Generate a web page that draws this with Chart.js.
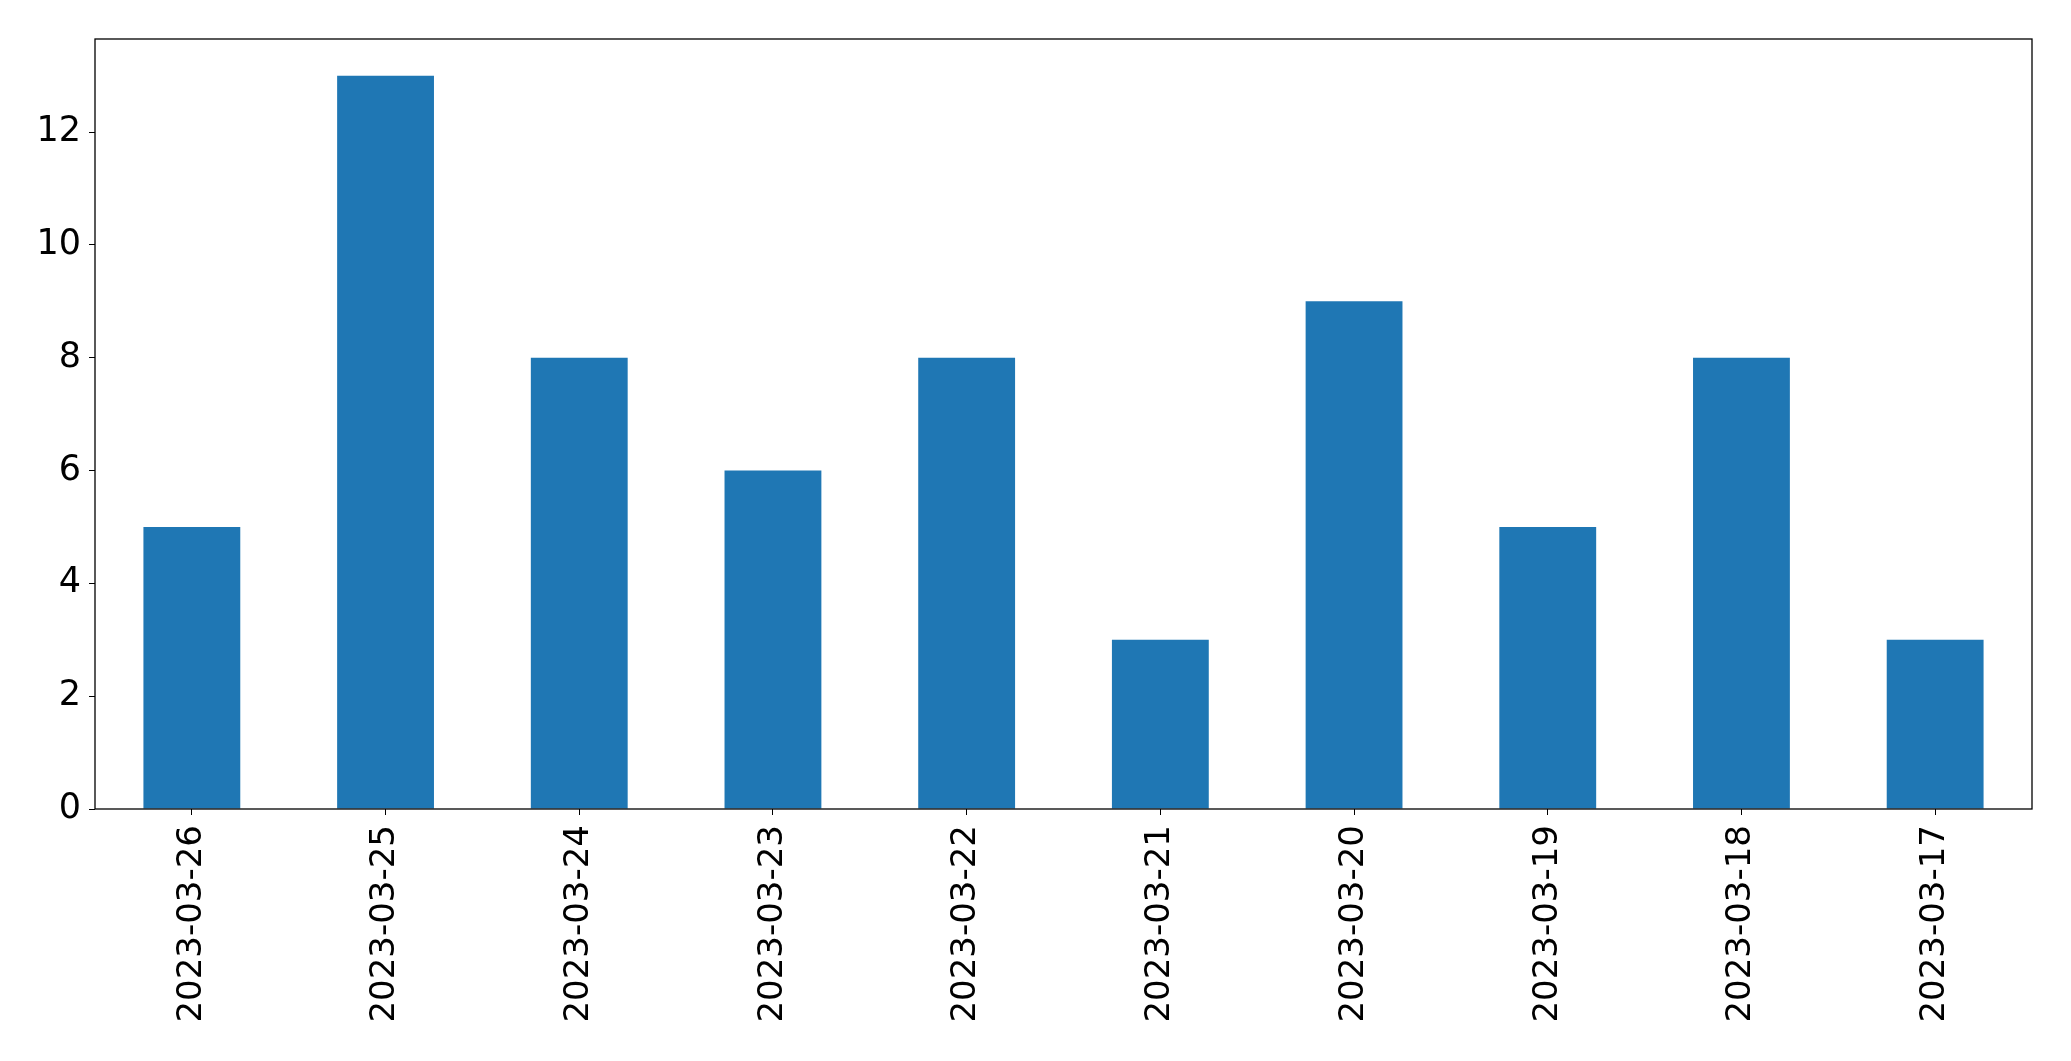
<!DOCTYPE html>
<html>
<head>
<meta charset="utf-8">
<script src="https://cdn.jsdelivr.net/npm/chart.js@4"></script>
<style>
  html, body { margin: 0; padding: 0; background: #fff; }
  #wrap { width: 2071px; height: 1061px; }
</style>
</head>
<body>
<div id="wrap"><canvas id="barChart"></canvas></div>
<script>
// 数据
const dates = ['2023-03-26', '2023-03-25', '2023-03-24', '2023-03-23', '2023-03-22',
               '2023-03-21', '2023-03-20', '2023-03-19', '2023-03-18', '2023-03-17'];
const counts = [5, 13, 8, 6, 8, 3, 9, 5, 8, 3];
const yTicks = [0, 2, 4, 6, 8, 10, 12];

// 四边框线
const frame = {
  id: 'frame',
  afterDraw(chart) {
    const { ctx, chartArea: a } = chart;
    ctx.save();
    ctx.strokeStyle = '#000';
    ctx.lineWidth = 1.3;
    ctx.strokeRect(a.left, a.top, a.right - a.left, a.bottom - a.top);
    ctx.restore();
  }
};

const ctx = document.getElementById('barChart').getContext('2d');
new Chart(ctx, {
  type: 'bar',
  data: {
    labels: dates,
    datasets: [{
      data: counts,
      backgroundColor: '#1f77b4',
      categoryPercentage: 1,
      barPercentage: 0.5
    }]
  },
  options: {
    responsive: true,
    maintainAspectRatio: false,
    animation: false,
    layout: { padding: { top: 39, right: 39, left: 0, bottom: 0 } },
    plugins: { legend: { display: false }, tooltip: { enabled: false } },
    scales: {
      x: {
        grid: { display: true, offset: false, drawOnChartArea: false, tickLength: 6, tickColor: '#000' },
        border: { display: false },
        ticks: {
          color: '#000',
          font: { family: 'DejaVu Sans', size: 34 },
          maxRotation: 90, minRotation: 90, padding: 10, autoSkip: false
        },
        afterFit(scale) { scale.height = 252; }
      },
      y: {
        min: 0,
        max: 13.65,
        afterBuildTicks(scale) { scale.ticks = yTicks.map(v => ({ value: v })); },
        grid: { display: true, drawOnChartArea: false, tickLength: 6, tickColor: '#000' },
        border: { display: false },
        ticks: {
          color: '#000',
          font: { family: 'DejaVu Sans', size: 35 },
          padding: 8
        },
        afterFit(scale) { scale.width = 95; }
      }
    }
  },
  plugins: [frame]
});
</script>
</body>
</html>
